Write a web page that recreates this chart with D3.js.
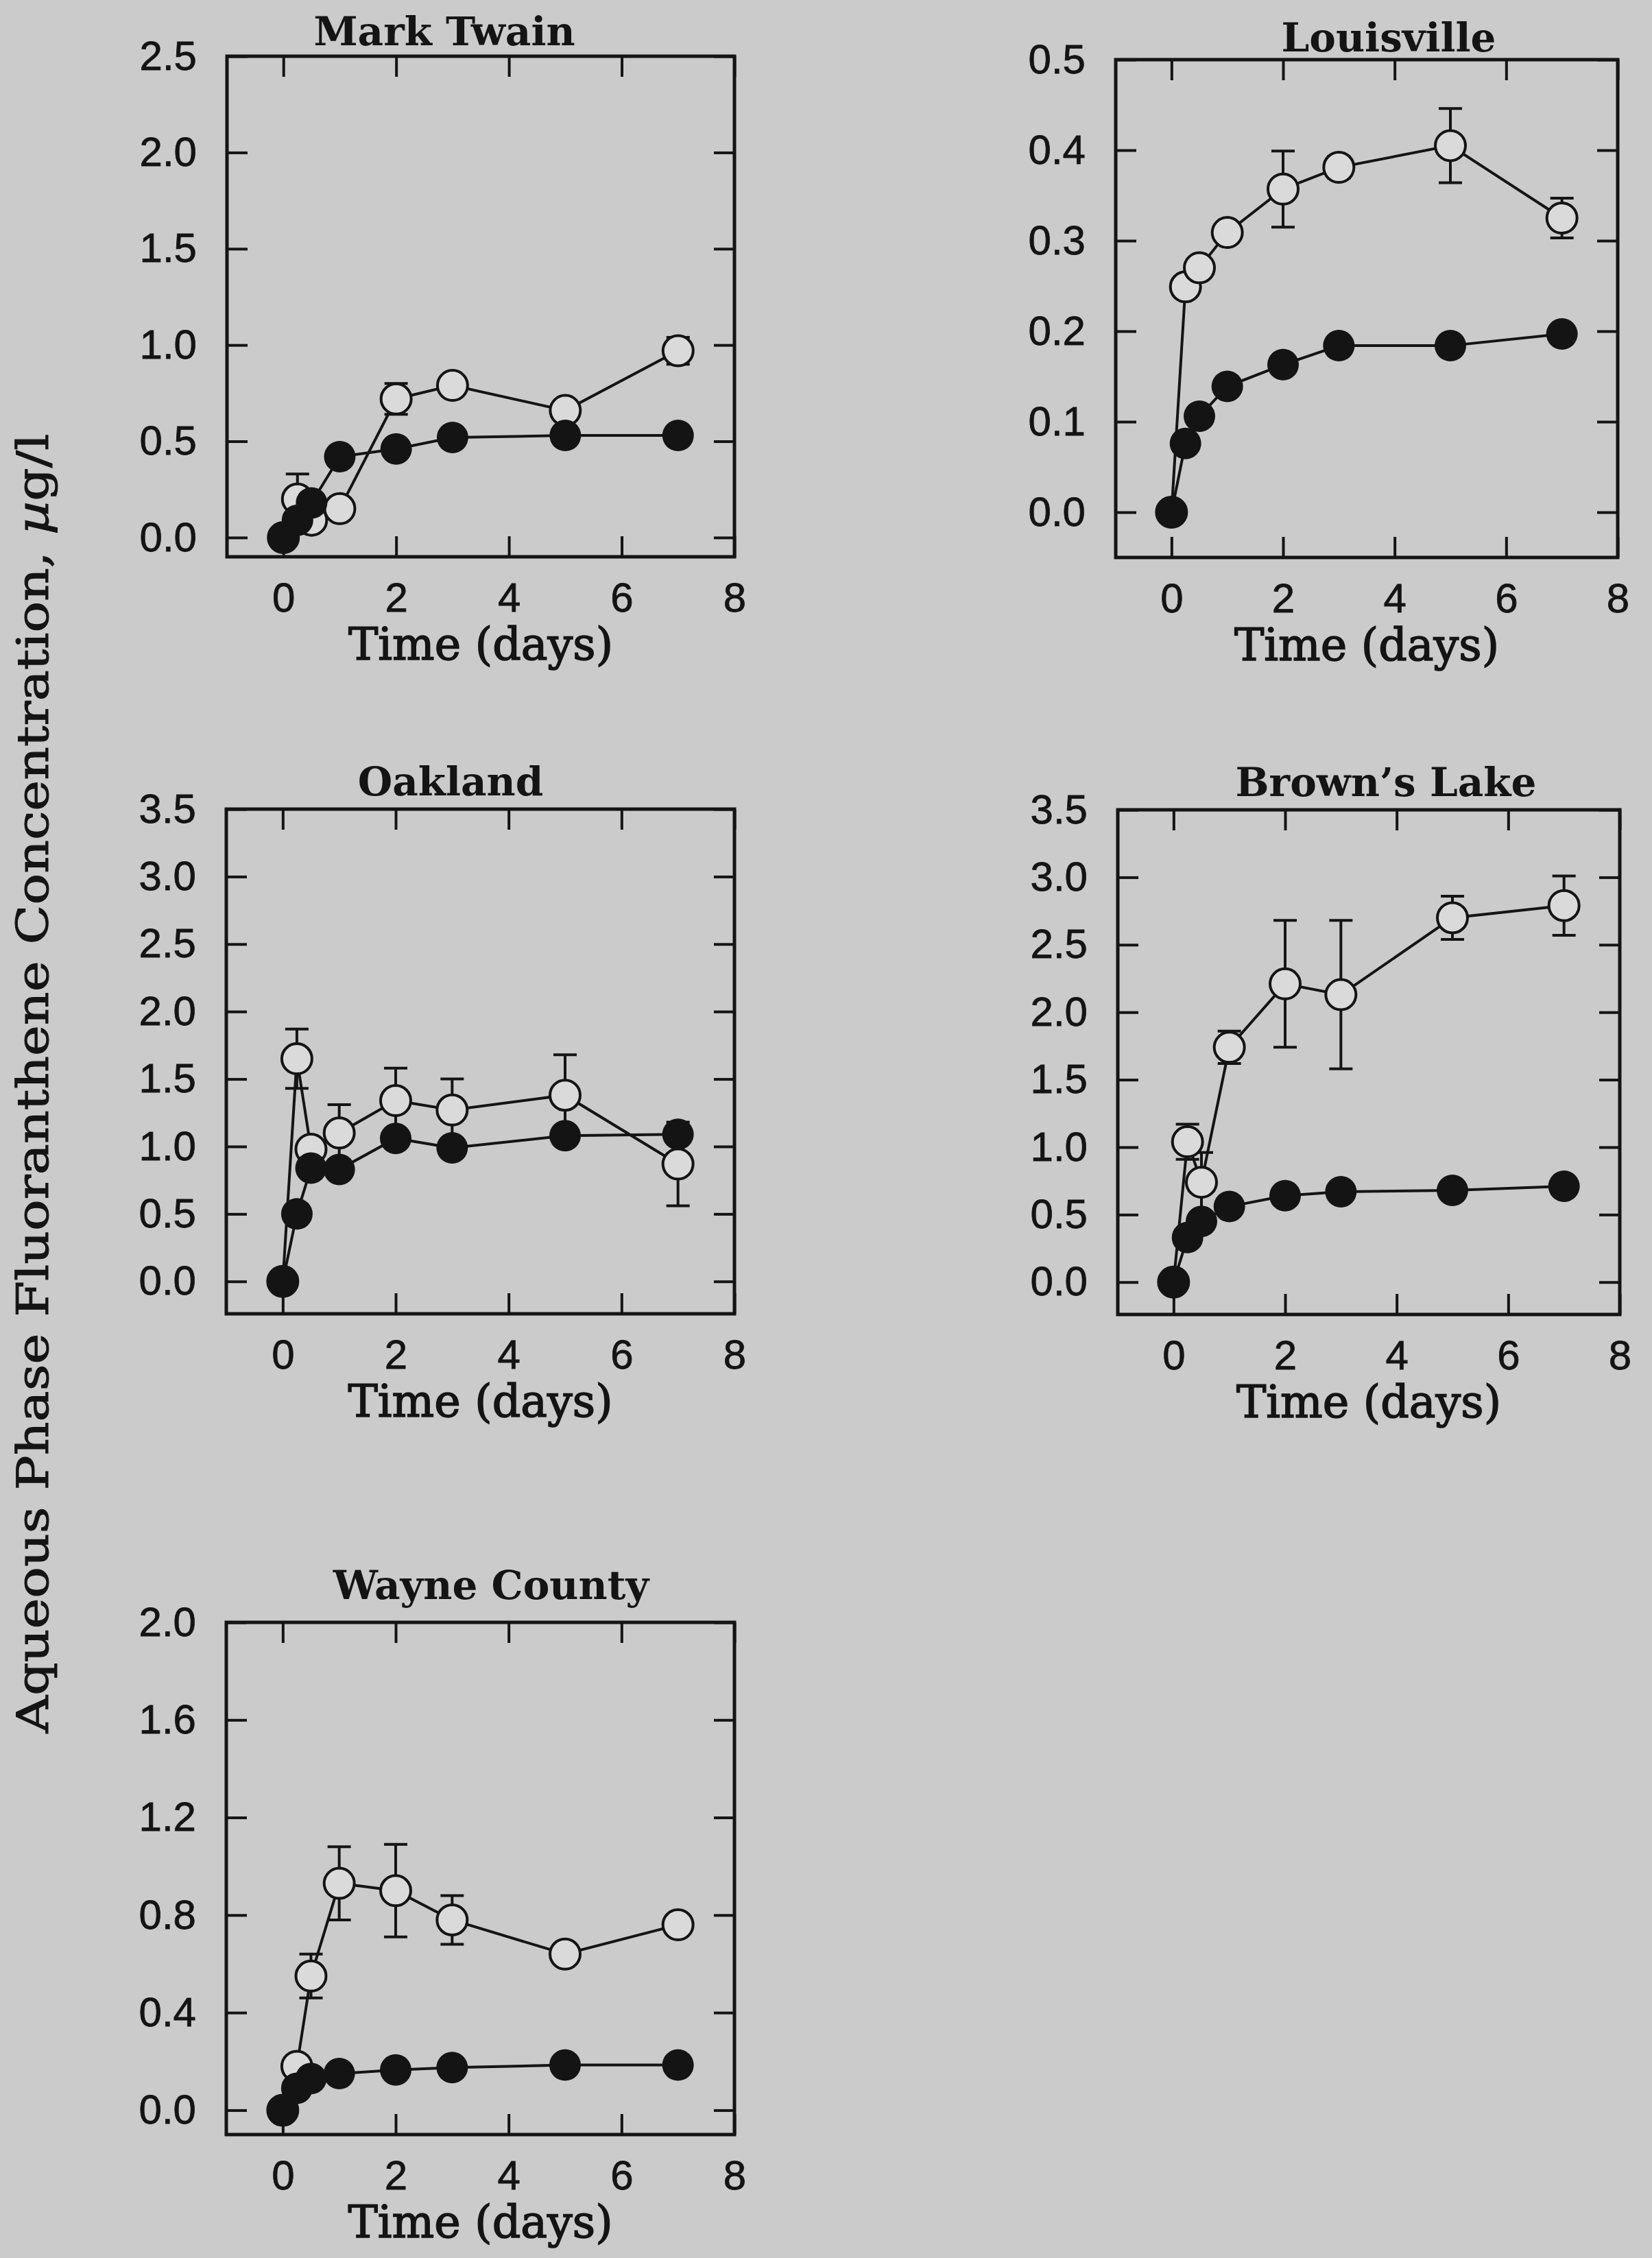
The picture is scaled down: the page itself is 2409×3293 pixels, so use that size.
<!DOCTYPE html>
<html>
<head>
<meta charset="utf-8">
<script src="https://cdn.jsdelivr.net/npm/d3@7"></script>
<style>
body { margin: 0; background: #cbcbcb; }
svg { display: block; }
</style>
</head>
<body>
<div id="fig"></div>
<script>
var width = 2409,
  height = 3293

// sampling times (days), same for every site
var days = [0, 0.25, 0.5, 1, 2, 3, 5, 7]
var xTicks = [0, 2, 4, 6, 8]

// open circles = experimental, filled = predicted, err = +/- bar on experimental
var markTwainExp = [0, 0.2, 0.09, 0.15, 0.72, 0.79, 0.66, 0.97]
var markTwainErr = [0, 0.13, 0, 0, 0.08, 0, 0, 0.07]
var markTwainPred = [0, 0.09, 0.18, 0.42, 0.46, 0.52, 0.53, 0.53]
var markTwainTicks = [0, 0.5, 1.0, 1.5, 2.0, 2.5]

var louisvilleExp = [0, 0.249, 0.27, 0.309, 0.357, 0.381, 0.405, 0.325]
var louisvilleErr = [0, 0, 0, 0, 0.042, 0.012, 0.041, 0.022]
var louisvillePred = [0, 0.076, 0.106, 0.139, 0.163, 0.184, 0.184, 0.197]
var louisvilleTicks = [0, 0.1, 0.2, 0.3, 0.4, 0.5]

var oaklandExp = [0, 1.65, 0.98, 1.1, 1.34, 1.27, 1.38, 0.87]
var oaklandErr = [0, 0.22, 0, 0.21, 0.24, 0.23, 0.3, 0.31]
var oaklandPred = [0, 0.5, 0.84, 0.83, 1.06, 0.99, 1.08, 1.09]
var oaklandTicks = [0, 0.5, 1.0, 1.5, 2.0, 2.5, 3.0, 3.5]

var brownsExp = [0, 1.04, 0.74, 1.74, 2.21, 2.13, 2.70, 2.79]
var brownsErr = [0, 0.13, 0.22, 0.12, 0.47, 0.55, 0.16, 0.22]
var brownsPred = [0, 0.33, 0.45, 0.56, 0.64, 0.67, 0.68, 0.71]
var brownsTicks = [0, 0.5, 1.0, 1.5, 2.0, 2.5, 3.0, 3.5]

var wayneExp = [0, 0.18, 0.55, 0.93, 0.90, 0.78, 0.64, 0.76]
var wayneErr = [0, 0, 0.09, 0.15, 0.19, 0.1, 0.04, 0]
var waynePred = [0, 0.09, 0.13, 0.15, 0.165, 0.175, 0.185, 0.185]
var wayneTicks = [0, 0.4, 0.8, 1.2, 1.6, 2.0]

// panel layout (pixels) kept apart from the data
var panels = [
  {title: "Mark Twain", exp: markTwainExp, err: markTwainErr, pred: markTwainPred, ticks: markTwainTicks,
   ymin: -0.1, left: 331, top: 82, w: 740, h: 730, tx: 648, ty: -16},
  {title: "Louisville", exp: louisvilleExp, err: louisvilleErr, pred: louisvillePred, ticks: louisvilleTicks,
   ymin: -0.05, left: 1627, top: 87, w: 732, h: 726, tx: 2025, ty: -12},
  {title: "Oakland", exp: oaklandExp, err: oaklandErr, pred: oaklandPred, ticks: oaklandTicks,
   ymin: -0.24, left: 330, top: 1180, w: 741, h: 736, tx: 657, ty: -20},
  {title: "Brown\u2019s Lake", exp: brownsExp, err: brownsErr, pred: brownsPred, ticks: brownsTicks,
   ymin: -0.24, left: 1630, top: 1181, w: 732, h: 736, tx: 2021, ty: -20},
  {title: "Wayne County", exp: wayneExp, err: wayneErr, pred: waynePred, ticks: wayneTicks,
   ymin: -0.1, left: 330, top: 2366, w: 741, h: 747, tx: 716, ty: -34}
]

var ink = "#141414",
  paper = "#cbcbcb",
  hole = "#dadada",
  r = 21

var svg = d3.select("#fig")
  .append("svg")
  .attr("width", width)
  .attr("height", height)

svg.append("rect")
  .attr("width", width)
  .attr("height", height)
  .attr("fill", paper)

// shared y-axis title
var yt = svg.append("text")
  .attr("transform", "translate(70,1580) rotate(-90)")
  .attr("text-anchor", "middle")
  .attr("font-family", "DejaVu Serif")
  .attr("font-size", 64)
  .attr("fill", ink)
  .attr("stroke", ink)
  .attr("stroke-width", 1)
  .attr("textLength", 1895)
  .attr("lengthAdjust", "spacingAndGlyphs")
yt.append("tspan").text("Aqueous Phase Fluoranthene Concentration, ")
yt.append("tspan").attr("font-style", "italic").text("\u00b5")
yt.append("tspan").text("g/l")

panels.forEach(function(p) {
  var x = d3.scaleLinear().domain([-1, 8]).range([p.left, p.left + p.w])
  var y = d3.scaleLinear().domain([p.ymin, p.ticks[p.ticks.length - 1]]).range([p.top + p.h, p.top])
  var g = svg.append("g")

  var fmt = d3.format(".1f")

  // inner ticks on all four sides, labels only left and bottom
  var bottom = g.append("g")
    .attr("transform", "translate(0," + (p.top + p.h) + ")")
    .call(d3.axisBottom(x).tickValues(xTicks).tickSizeInner(-30).tickSizeOuter(0).tickPadding(37).tickFormat(d3.format("d")))
  var top = g.append("g")
    .attr("transform", "translate(0," + p.top + ")")
    .call(d3.axisTop(x).tickValues(xTicks).tickSizeInner(-30).tickSizeOuter(0).tickFormat(""))
  var left = g.append("g")
    .attr("transform", "translate(" + p.left + ",0)")
    .call(d3.axisLeft(y).tickValues(p.ticks).tickSizeInner(-30).tickSizeOuter(0).tickPadding(44).tickFormat(fmt))
  var right = g.append("g")
    .attr("transform", "translate(" + (p.left + p.w) + ",0)")
    .call(d3.axisRight(y).tickValues(p.ticks).tickSizeInner(-30).tickSizeOuter(0).tickFormat(""))

  ;[bottom, top, left, right].forEach(function(a) {
    a.select(".domain").remove()
    a.selectAll("line").attr("stroke", ink).attr("stroke-width", 4)
    a.selectAll("text")
      .attr("fill", ink)
      .attr("stroke", ink)
      .attr("stroke-width", 0.8)
      .attr("font-family", "Liberation Sans")
      .attr("font-size", 60)
  })

  g.append("rect")
    .attr("x", p.left)
    .attr("y", p.top)
    .attr("width", p.w)
    .attr("height", p.h)
    .attr("fill", "none")
    .attr("stroke", ink)
    .attr("stroke-width", 5)

  g.append("text")
    .attr("x", p.tx)
    .attr("y", p.top + p.ty)
    .attr("text-anchor", "middle")
    .attr("font-family", "DejaVu Serif")
    .attr("font-weight", "bold")
    .attr("font-size", 58)
    .attr("fill", ink)
    .text(p.title)

  g.append("text")
    .attr("x", x(3.5))
    .attr("y", p.top + p.h + 150)
    .attr("text-anchor", "middle")
    .attr("font-family", "DejaVu Serif")
    .attr("font-size", 65)
    .attr("fill", ink)
    .attr("stroke", ink)
    .attr("stroke-width", 1.6)
    .text("Time (days)")

  var exp = days.map(function(d, i) { return {t: d, v: p.exp[i], e: p.err[i]} })
  var pred = days.map(function(d, i) { return {t: d, v: p.pred[i]} })

  var line = d3.line()
    .x(function(d) { return x(d.t) })
    .y(function(d) { return y(d.v) })

  // error bars on the experimental points
  var eb = g.append("g").attr("stroke", ink).attr("stroke-width", 4)
  exp.filter(function(d) { return d.e > 0 }).forEach(function(d) {
    var cx = x(d.t), y0 = y(d.v - d.e), y1 = y(d.v + d.e)
    eb.append("line").attr("x1", cx).attr("x2", cx).attr("y1", y0).attr("y2", y1)
    eb.append("line").attr("x1", cx - 17).attr("x2", cx + 17).attr("y1", y0).attr("y2", y0)
    eb.append("line").attr("x1", cx - 17).attr("x2", cx + 17).attr("y1", y1).attr("y2", y1)
  })

  g.append("path").datum(exp)
    .attr("d", line).attr("fill", "none").attr("stroke", ink).attr("stroke-width", 4)
  g.append("path").datum(pred)
    .attr("d", line).attr("fill", "none").attr("stroke", ink).attr("stroke-width", 4)

  g.selectAll("circle.exp")
    .data(exp)
    .enter().append("circle")
      .attr("class", "exp")
      .attr("cx", function(d) { return x(d.t) })
      .attr("cy", function(d) { return y(d.v) })
      .attr("r", r + 1)
      .attr("fill", hole)
      .attr("stroke", ink)
      .attr("stroke-width", 4)

  g.selectAll("circle.pred")
    .data(pred)
    .enter().append("circle")
      .attr("class", "pred")
      .attr("cx", function(d) { return x(d.t) })
      .attr("cy", function(d) { return y(d.v) })
      .attr("r", r + 2)
      .attr("fill", ink)
})
</script>
</body>
</html>
